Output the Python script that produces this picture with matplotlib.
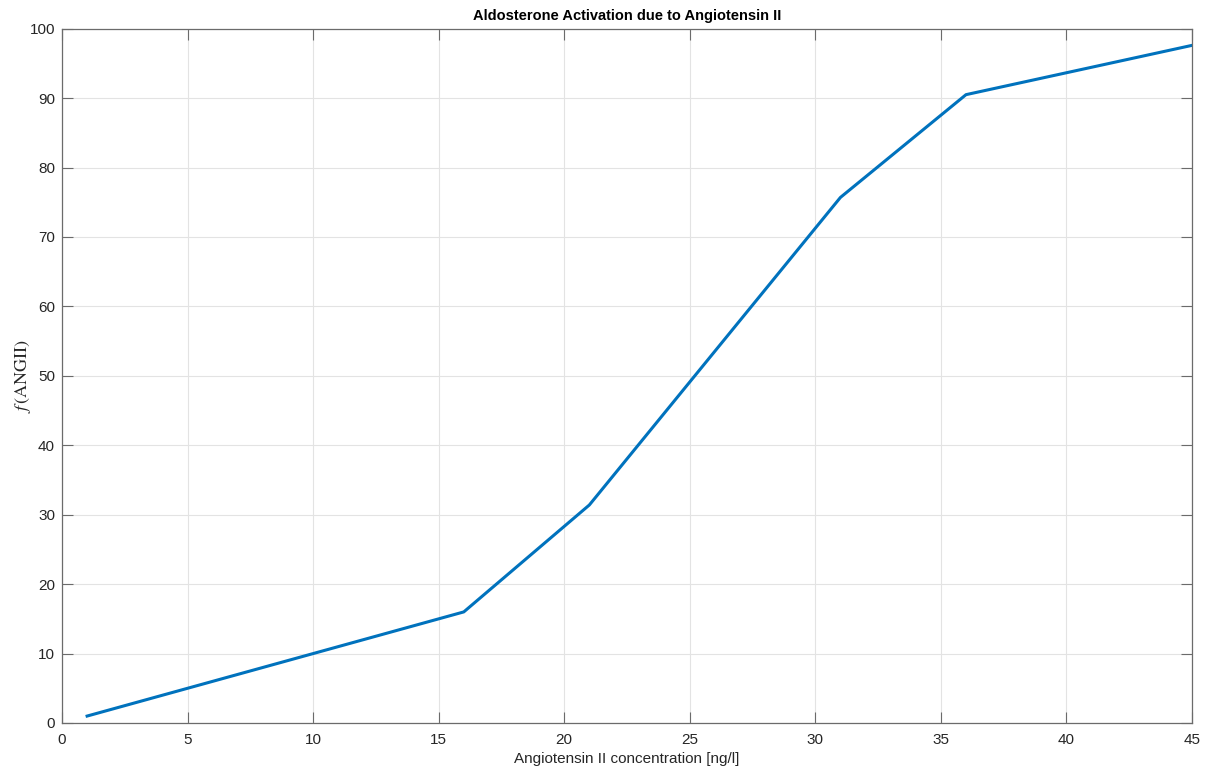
import numpy as np
import matplotlib
matplotlib.use("Agg")
import matplotlib.pyplot as plt

plt.rcParams['font.family'] = ['Liberation Sans', 'DejaVu Sans']
plt.rcParams['mathtext.fontset'] = 'stix'

# Angiotensin II concentration [ng/l] and activation response
angii = [1, 16, 21, 31, 36, 45]
activation = [1.0, 16.0, 31.4, 75.7, 90.5, 97.6]

x_ticks = [0, 5, 10, 15, 20, 25, 30, 35, 40, 45]
y_ticks = [0, 10, 20, 30, 40, 50, 60, 70, 80, 90, 100]

fig = plt.figure(figsize=(12.1, 7.72), dpi=100)
ax = fig.add_axes([62 / 1210, 1 - 723 / 772, 1130 / 1210, 694.3 / 772])

ax.plot(angii, activation, color='#0072BD', linewidth=2.2)

ax.set_xlim(0, 45)
ax.set_ylim(0, 100)
ax.set_xticks(x_ticks)
ax.set_yticks(y_ticks)
ax.grid(True, color='#e3e3e3', linewidth=0.8)
ax.set_axisbelow(True)

ax.tick_params(direction='in', length=8, width=0.8, colors='#6b6b6b',
               labelcolor='#262626', labelsize=11, top=True, right=True, pad=5)
ax.tick_params(axis='x', pad=7)
for s in ax.spines.values():
    s.set_color('#6b6b6b')
    s.set_linewidth(0.9)

ax.set_title('Aldosterone Activation due to Angiotensin II', fontsize=10.5,
             fontweight='bold', color='black', pad=6)
ax.set_xlabel('Angiotensin II concentration [ng/l]', fontsize=11,
              color='#262626', labelpad=4)
ax.set_ylabel(r'$f\,(\mathrm{ANGII})$', fontsize=13, color='#262626', labelpad=-2.5)

fig.savefig('out.png', dpi=100)
